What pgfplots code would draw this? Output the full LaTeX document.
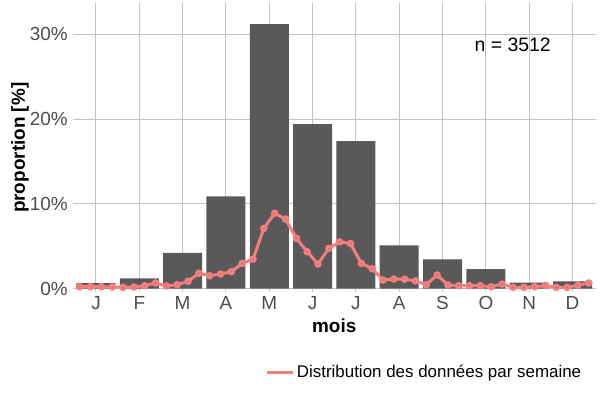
\documentclass[border=0pt]{standalone}
\usepackage{pgfplots}
\pgfplotsset{compat=1.18}
\usepackage{fontspec}
\setmainfont{Liberation Sans}

\definecolor{barfill}{HTML}{595959}
\definecolor{gridcol}{HTML}{C4C4C4}
\definecolor{ticktext}{HTML}{4D4D4D}
\definecolor{weekline}{HTML}{F27F7F}
\definecolor{weekdot}{HTML}{E8262A}

% monthly proportion [%]
\pgfplotstableread{
x  p
1  0.62
2  1.20
3  4.20
4  10.86
5  31.20
6  19.40
7  17.40
8  5.10
9  3.45
10 2.30
11 0.70
12 0.85
}\monthdata

% weekly proportion [%], 4 points per month
\pgfplotstableread{
x      p
0.625  0.21
0.875  0.21
1.125  0.21
1.375  0.18
1.625  0.14
1.875  0.18
2.125  0.33
2.375  0.65
2.625  0.30
2.875  0.45
3.125  0.85
3.375  1.80
3.625  1.51
3.875  1.71
4.125  1.98
4.375  2.97
4.625  3.45
4.875  7.10
5.125  8.88
5.375  8.20
5.625  5.93
5.875  4.34
6.125  2.89
6.375  4.74
6.625  5.50
6.875  5.30
7.125  2.97
7.375  2.34
7.625  1.00
7.875  1.12
8.125  1.10
8.375  0.90
8.625  0.45
8.875  1.59
9.125  0.41
9.375  0.33
9.625  0.33
9.875  0.33
10.125 0.21
10.375 0.52
10.625 0.14
10.875 0.14
11.125 0.21
11.375 0.35
11.625 0.14
11.875 0.14
12.125 0.38
12.375 0.65
}\weekdata

\begin{document}
\begin{tikzpicture}
\useasboundingbox (-76.5bp,-111.5bp) rectangle (523.5bp,288.5bp);
\begin{axis}[
    at={(0,0)}, anchor=south west,
    scale only axis,
    width=515.5bp, height=281.5bp,
    xmin=0.55, xmax=12.45,
    ymin=0, ymax=33.22,
    xtick={1,...,12},
    xticklabels={J,F,M,A,M,J,J,A,S,O,N,D},
    ytick={0,10,20,30},
    yticklabels={0\%,10\%,20\%,30\%},
    /pgf/number format/assume math mode=true,
    axis line style={draw=none},
    tick align=outside,
    major tick length=3.5bp,
    tick style={gridcol, line width=1bp},
    grid=major,
    major grid style={gridcol, line width=1bp},
    tick label style={ticktext, font=\fontsize{19}{22}\selectfont},
    yticklabel style={inner sep=0pt, xshift=-5bp},
    xticklabel style={inner sep=0pt, yshift=-4bp, anchor=north},
    xlabel={mois},
    ylabel={proportion [\%]},
    label style={font=\fontsize{19}{22}\selectfont\bfseries, black},
    xlabel style={at={(axis description cs:0.5,-0.133)}, anchor=center},
    ylabel style={at={(axis description cs:-0.1096,0.5)}, anchor=center},
    legend style={at={(axis description cs:0.367,-0.297)}, anchor=west,
        draw=none, fill=none, inner sep=0pt,
        font=\fontsize{17}{20}\selectfont},
    legend cell align=left,
    clip=false,
]
\addplot[ybar, bar width=0.9, bar shift=0pt, fill=barfill, draw=none, forget plot]
    table[x=x, y=p] {\monthdata};
\addplot[weekline, line width=3bp, mark=*, mark size=2.2bp,
    mark options={draw=none, fill=weekdot},
    legend image code/.code={
        \draw[weekline, line width=2.5bp] (0bp,0bp) -- (20bp,0bp);
        \path (0bp,0bp) -- (26bp,0bp);}]
    table[x=x, y=p] {\weekdata};
\addlegendentry{Distribution des données par semaine}
\node[font=\fontsize{19.5}{22}\selectfont, black] at (axis cs:10.62,28.7) {n = 3512};
\end{axis}
\end{tikzpicture}
\end{document}
